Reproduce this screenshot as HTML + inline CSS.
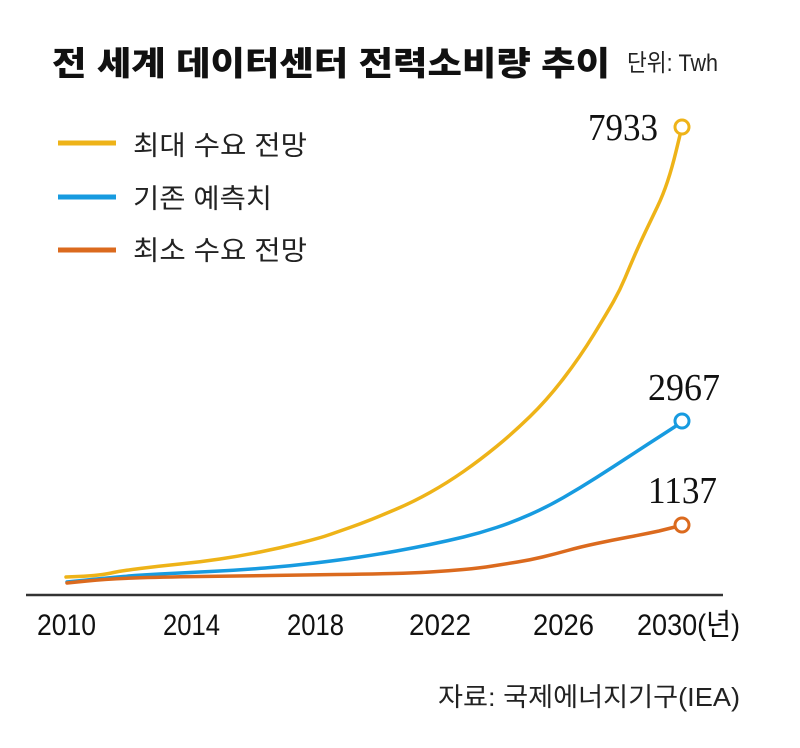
<!DOCTYPE html>
<html><head><meta charset="utf-8"><style>
html,body{margin:0;padding:0;background:#fff;}
svg{display:block;}
.kr{font-family:"Liberation Sans","Noto Sans CJK KR",sans-serif;}
.sf{font-family:"Liberation Serif",serif;}
</style></head><body>
<svg width="800" height="748" viewBox="0 0 800 748" xmlns="http://www.w3.org/2000/svg">
<rect width="800" height="748" fill="#fff"/>
<text class="kr" x="52" y="75" font-size="33" font-weight="900" fill="#111" textLength="558" lengthAdjust="spacingAndGlyphs">전 세계 데이터센터 전력소비량 추이</text>
<text class="kr" x="627" y="71" font-size="24" fill="#222" textLength="91" lengthAdjust="spacingAndGlyphs">단위: Twh</text>

<line x1="58" y1="143" x2="116" y2="143" stroke="#EEB318" stroke-width="5"/>
<line x1="58" y1="197" x2="116" y2="197" stroke="#179BE0" stroke-width="5"/>
<line x1="58" y1="250" x2="116" y2="250" stroke="#DB6A1E" stroke-width="5"/>
<text class="kr" x="133" y="155" font-size="27" fill="#222" textLength="174" lengthAdjust="spacingAndGlyphs">최대 수요 전망</text>
<text class="kr" x="133" y="208" font-size="27" fill="#222" textLength="139" lengthAdjust="spacingAndGlyphs">기존 예측치</text>
<text class="kr" x="133" y="260" font-size="27" fill="#222" textLength="174" lengthAdjust="spacingAndGlyphs">최소 수요 전망</text>

<line x1="26" y1="595" x2="723" y2="595" stroke="#333" stroke-width="2.5"/>

<path fill="none" stroke="#EEB318" stroke-width="3.5" stroke-linejoin="round" stroke-linecap="round" d="M66,577 L78,576.5 Q90,576 98.5,575 Q107,574 113.5,572.5 Q120,571 140,568.5 Q160,566 180,564 Q200,562 220,559 Q240,556 260,552 Q280,548 300,543 Q320,538 330,534.5 Q340,531 350,527.5 Q360,524 370,520 Q380,516 396.5,509 Q413,502 430,492.5 Q447,483 463.5,471.5 Q480,460 496.5,446.5 Q513,433 530,416.5 Q547,400 563.5,378.5 Q580,357 593.5,335 Q607,313 613.5,301.5 Q620,290 625,278 Q630,266 635,254.5 Q640,243 646,230.5 Q652,218 657.5,206.5 Q663,195 667.5,181.5 Q672,168 676,151.5 L680,135"/>
<path fill="none" stroke="#179BE0" stroke-width="3.5" stroke-linejoin="round" stroke-linecap="round" d="M67,582 L87,580 Q107,578 123.5,576.5 Q140,575 160,574 Q180,573 210,571.5 Q240,570 265,568 Q290,566 315,563 Q340,560 360,557 Q380,554 396.5,551 Q413,548 430,544.5 Q447,541 463.5,537 Q480,533 496.5,527.5 Q513,522 530,514.5 Q547,507 563.5,497.5 Q580,488 596.5,477.5 Q613,467 629,456.5 Q645,446 659,437 L676,426"/>
<path fill="none" stroke="#DB6A1E" stroke-width="3.5" stroke-linejoin="round" stroke-linecap="round" d="M67,583 L87,581 Q107,579 133.5,578 Q160,577 200,576.5 Q240,576 270,575.5 Q300,575 336.5,574.5 Q373,574 393,573.5 Q413,573 430,572 Q447,571 463.5,569.5 Q480,568 492.5,566 Q505,564 517.5,562 Q530,560 542.5,557 Q555,554 567.5,550.5 Q580,547 596.5,543.5 Q613,540 629,537 Q645,534 659,531 L675,527"/>

<circle cx="682" cy="127" r="7" fill="#fff" stroke="#EEB318" stroke-width="3"/>
<circle cx="682" cy="421" r="7" fill="#fff" stroke="#179BE0" stroke-width="3"/>
<circle cx="682" cy="525" r="7" fill="#fff" stroke="#DB6A1E" stroke-width="3"/>

<text class="sf" x="588" y="140" font-size="38" fill="#111" textLength="70" lengthAdjust="spacingAndGlyphs">7933</text>
<text class="sf" x="648" y="400" font-size="38" fill="#111" textLength="72" lengthAdjust="spacingAndGlyphs">2967</text>
<text class="sf" x="648" y="503" font-size="38" fill="#111" textLength="69" lengthAdjust="spacingAndGlyphs">1137</text>

<text class="kr" x="37" y="635" font-size="30" fill="#111" textLength="59" lengthAdjust="spacingAndGlyphs">2010</text>
<text class="kr" x="163" y="635" font-size="30" fill="#111" textLength="57" lengthAdjust="spacingAndGlyphs">2014</text>
<text class="kr" x="287" y="635" font-size="30" fill="#111" textLength="57" lengthAdjust="spacingAndGlyphs">2018</text>
<text class="kr" x="409" y="635" font-size="30" fill="#111" textLength="62" lengthAdjust="spacingAndGlyphs">2022</text>
<text class="kr" x="533" y="635" font-size="30" fill="#111" textLength="61" lengthAdjust="spacingAndGlyphs">2026</text>
<text class="kr" x="637" y="635" font-size="30" fill="#111" textLength="103" lengthAdjust="spacingAndGlyphs">2030(년)</text>

<text class="kr" x="438" y="706" font-size="26" fill="#222" textLength="302" lengthAdjust="spacingAndGlyphs">자료: 국제에너지기구(IEA)</text>
</svg>
</body></html>
